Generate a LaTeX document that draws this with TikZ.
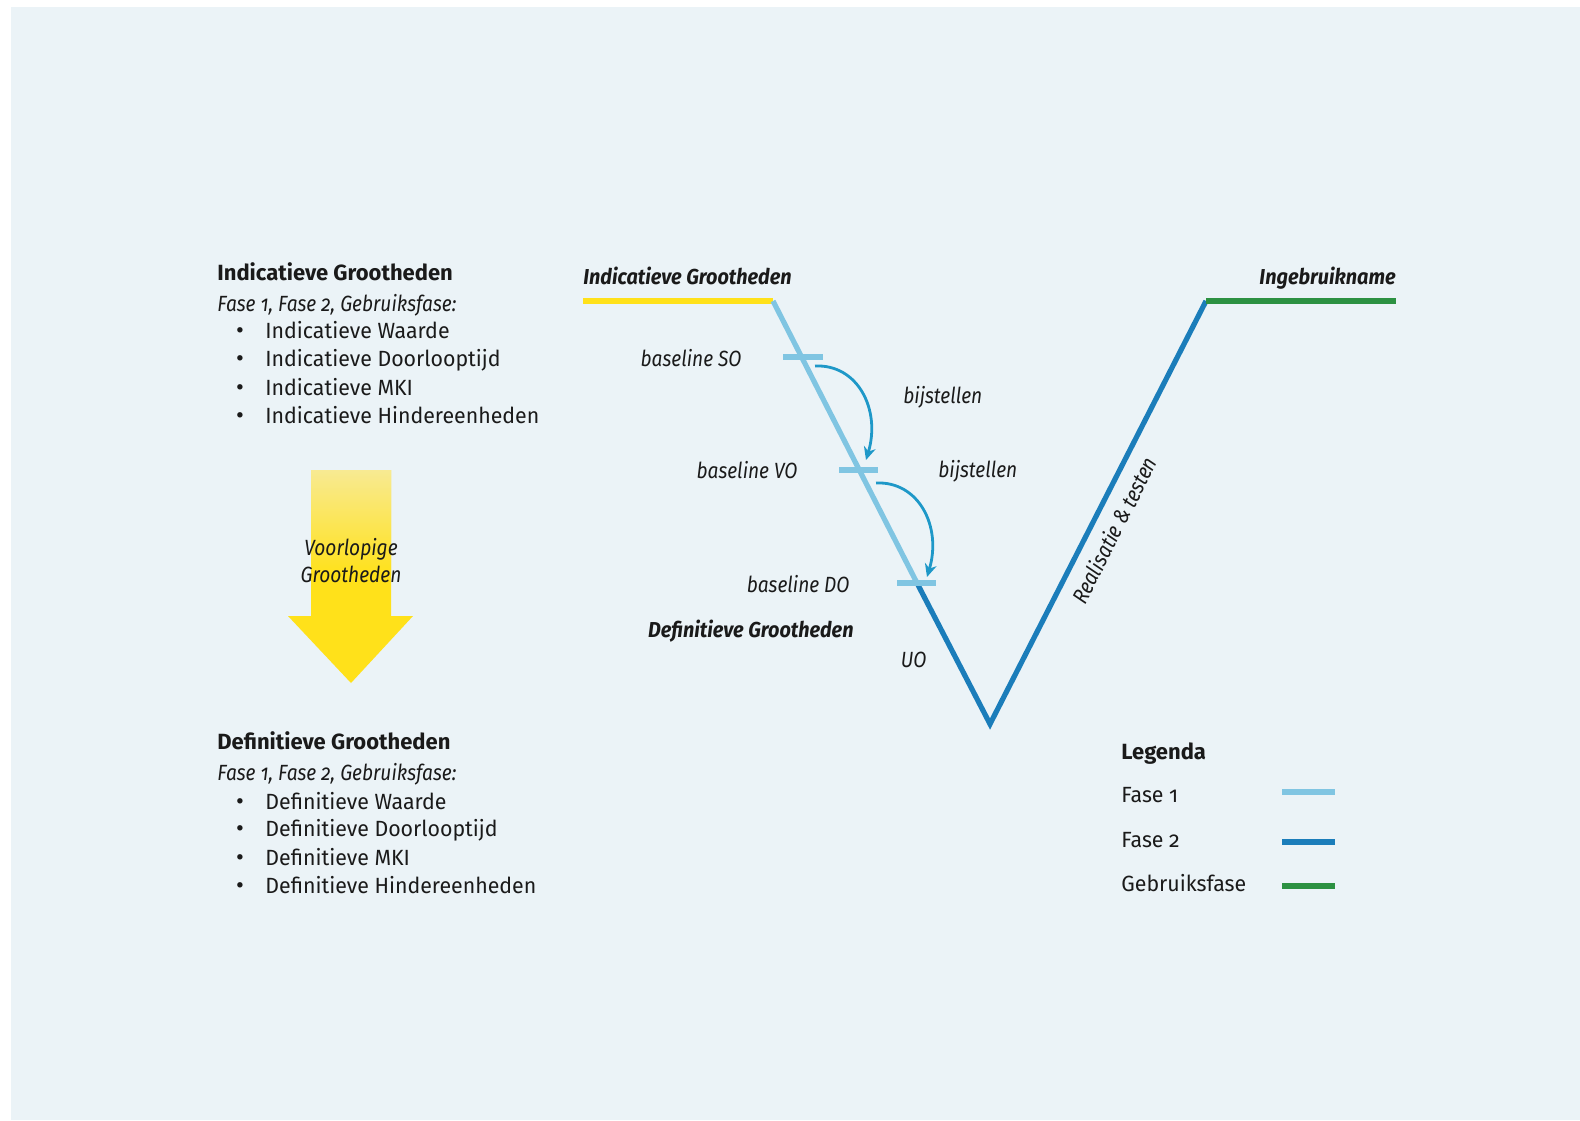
\documentclass[tikz,border=0pt]{standalone}
\usepackage{fontspec}
\setmainfont{Fira Sans}[Numbers=OldStyle,FakeStretch=0.97]
\newfontfamily\narrowit{Fira Sans}[Numbers=OldStyle,FakeStretch=0.87]
\newfontfamily\narrowbi{Fira Sans}[Numbers=OldStyle,FakeStretch=0.92]
\newfontfamily\plainfs{Fira Sans}[Numbers=OldStyle]
\usetikzlibrary{arrows.meta}
\definecolor{bgc}{HTML}{EBF3F7}
\definecolor{ink}{HTML}{1A1A1A}
\definecolor{geel}{HTML}{FFE11A}
\definecolor{geellicht}{HTML}{F8EA92}
\definecolor{fase1}{HTML}{80C5E2}
\definecolor{fase2}{HTML}{1B7DBA}
\definecolor{gebruik}{HTML}{2C9142}
\definecolor{pijl}{HTML}{1E98C8}
\begin{document}
\begin{tikzpicture}[x=0.5pt,y=-0.5pt,
  txt/.style={inner sep=0pt,text=ink,anchor=base west,font=\fontsize{11}{13}\selectfont},
  txtb/.style={txt,font=\plainfs\fontsize{11}{13}\selectfont\bfseries},
  txti/.style={txt,font=\narrowit\fontsize{11}{13}\selectfont\itshape},
  lbl/.style={inner sep=0pt,text=ink,font=\narrowit\fontsize{11}{13}\selectfont\itshape},
  lblb/.style={inner sep=0pt,text=ink,font=\narrowbi\fontsize{10.8}{13}\selectfont\bfseries\itshape},
  bul/.style={inner sep=0pt,text=ink,anchor=base,font=\plainfs\fontsize{12}{14}\selectfont},
  vline/.style={line width=2.6pt},
  tick/.style={line width=2.6pt,draw=fase1},
  adj/.style={draw=pijl,line width=1.4pt,-{Stealth[length=6.5pt,width=6pt]}},
  leg/.style={line width=2.6pt}]
\useasboundingbox (0,0) rectangle (1580,1120);
\fill[white] (0,0) rectangle (1580,1120);
\fill[bgc] (11,7) rectangle (1580,1120);

% left block 1
\node[txtb] (t1) at (217,280) {Indicatieve Grootheden};
\node[txti] (f1) at (217,311) {Fase 1, Fase 2, Gebruiksfase:};
\node[bul] (b11) at (240,338) {\textbullet};
\node[txt] (i11) at (265,338) {Indicatieve Waarde};
\node[bul] (b12) at (240,366) {\textbullet};
\node[txt] (i12) at (265,366) {Indicatieve Doorlooptijd};
\node[bul] (b13) at (240,395) {\textbullet};
\node[txt] (i13) at (265,395) {Indicatieve MKI};
\node[bul] (b14) at (240,423) {\textbullet};
\node[txt] (i14) at (265,423) {Indicatieve Hindereenheden};

% yellow arrow
\fill[geel] (311,470) -- (391,470) -- (391,616) -- (413,616) -- (351,683) -- (288,616) -- (311,616) -- cycle;
\shade[top color=geellicht,bottom color=geel] (311,470) rectangle (391,575);
\node[lbl,anchor=base] (vg1) at (351,555) {Voorlopige};
\node[lbl,anchor=base] (vg2) at (351,582) {Grootheden};

% left block 2
\node[txtb] (t2) at (217,749) {Definitieve Grootheden};
\node[txti] (f2) at (217,780) {Fase 1, Fase 2, Gebruiksfase:};
\node[bul] (b21) at (240,809) {\textbullet};
\node[txt] (i21) at (265,809) {Definitieve Waarde};
\node[bul] (b22) at (240,836) {\textbullet};
\node[txt] (i22) at (265,836) {Definitieve Doorlooptijd};
\node[bul] (b23) at (240,865) {\textbullet};
\node[txt] (i23) at (265,865) {Definitieve MKI};
\node[bul] (b24) at (240,893) {\textbullet};
\node[txt] (i24) at (265,893) {Definitieve Hindereenheden};

% V diagram
\coordinate (ys) at (583,301);
\coordinate (yc) at (773,301);
\coordinate (dob) at (917,583);
\coordinate (vb) at (990,724);
\coordinate (gc) at (1206,301);
\coordinate (ge) at (1396,301);
\draw[vline,draw=geel] (ys) -- (yc);
\draw[vline,draw=fase1] (yc) -- (dob);
\draw[vline,draw=fase2,line join=miter] (dob) -- (vb) -- (gc);
\draw[vline,draw=gebruik] (gc) -- (ge);
\draw[tick] (783,357) -- (823,357);
\draw[tick] (839,470) -- (878,470);
\draw[tick] (897,583) -- (936,583);

\coordinate (a1s) at (815,366);
\coordinate (a1e) at (866,460);
\coordinate (a2s) at (876,483);
\coordinate (a2e) at (927,577);
\draw[adj] (a1s) .. controls (858,364) and (881,410) .. (a1e);
\draw[adj] (a2s) .. controls (919,481) and (942,527) .. (a2e);

\node[lblb,anchor=base west] (ig) at (583,284) {Indicatieve Grootheden};
\node[lblb,anchor=base east] (ib) at (1396,284) {Ingebruikname};
\node[lbl,anchor=base east] (bso) at (742,366) {baseline SO};
\node[lbl,anchor=base east] (bvo) at (798,478) {baseline VO};
\node[lbl,anchor=base east] (bdo) at (850,592) {baseline DO};
\node[lbl,anchor=base west] (bij1) at (903,403) {bijstellen};
\node[lbl,anchor=base west] (bij2) at (938,477) {bijstellen};
\node[lblb,anchor=base east] (dg) at (854,637) {Definitieve Grootheden};
\node[lbl,anchor=base east] (uo) at (927,667) {UO};
\node[lbl,rotate=63] (rt) at (1114,530) {Realisatie \& testen};

% legend
\node[txtb] (lg) at (1121,759) {Legenda};
\node[txt] (l1) at (1121,802) {Fase 1};
\node[txt] (l2) at (1121,847) {Fase 2};
\node[txt] (l3) at (1121,891) {Gebruiksfase};
\coordinate (l1a) at (1282,792); \coordinate (l1b) at (1335,792);
\coordinate (l2a) at (1282,842); \coordinate (l2b) at (1335,842);
\coordinate (l3a) at (1282,886); \coordinate (l3b) at (1335,886);
\draw[leg,draw=fase1] (l1a) -- (l1b);
\draw[leg,draw=fase2] (l2a) -- (l2b);
\draw[leg,draw=gebruik] (l3a) -- (l3b);
\end{tikzpicture}
\end{document}
